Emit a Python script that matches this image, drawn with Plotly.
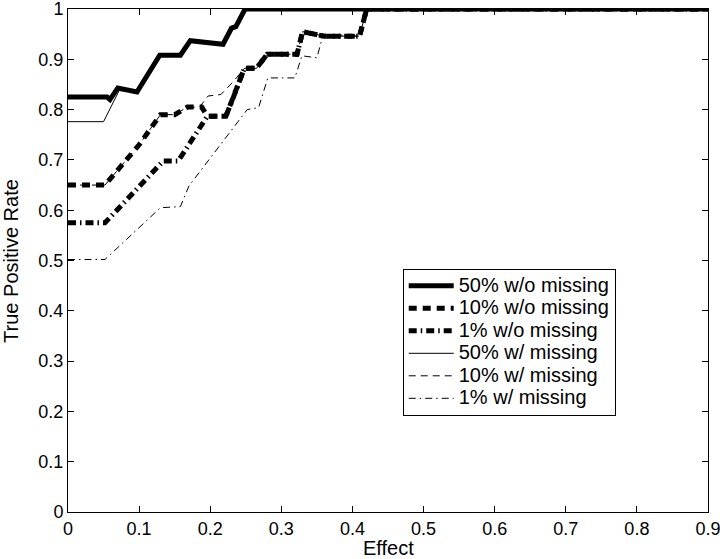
import plotly.graph_objects as go

# ---- data ----
x_50_wo = [0, 0.055, 0.059, 0.07, 0.097, 0.129, 0.158, 0.172, 0.218, 0.23, 0.236, 0.249, 0.9]
y_50_wo = [0.825, 0.825, 0.82, 0.843, 0.835, 0.908, 0.908, 0.937, 0.93, 0.962, 0.965, 1.0, 1.0]

x_10_wo = [0, 0.052, 0.1, 0.13, 0.15, 0.168, 0.188, 0.196, 0.222, 0.23, 0.248, 0.265, 0.28, 0.322, 0.33, 0.36, 0.41, 0.42, 0.9]
y_10_wo = [0.65, 0.65, 0.73, 0.79, 0.79, 0.805, 0.805, 0.787, 0.787, 0.815, 0.882, 0.882, 0.91, 0.91, 0.955, 0.946, 0.946, 1.0, 1.0]

x_1_wo = [0, 0.052, 0.134, 0.155, 0.196, 0.222, 0.23, 0.248, 0.265, 0.28, 0.322, 0.33, 0.36, 0.41, 0.42, 0.9]
y_1_wo = [0.575, 0.575, 0.698, 0.698, 0.787, 0.787, 0.815, 0.882, 0.882, 0.91, 0.91, 0.955, 0.946, 0.946, 1.0, 1.0]

x_50_w = [0, 0.05, 0.072, 0.097, 0.129, 0.158, 0.172, 0.218, 0.23, 0.236, 0.249, 0.9]
y_50_w = [0.776, 0.776, 0.838, 0.835, 0.908, 0.908, 0.937, 0.93, 0.962, 0.965, 1.0, 1.0]

x_10_w = [0, 0.052, 0.1, 0.13, 0.15, 0.168, 0.185, 0.197, 0.215, 0.232, 0.248, 0.265, 0.28, 0.322, 0.33, 0.36, 0.41, 0.42, 0.9]
y_10_w = [0.65, 0.65, 0.73, 0.79, 0.79, 0.805, 0.805, 0.827, 0.83, 0.855, 0.882, 0.882, 0.91, 0.91, 0.955, 0.946, 0.946, 1.0, 1.0]

x_1_w = [0, 0.052, 0.13, 0.158, 0.17, 0.252, 0.268, 0.281, 0.319, 0.329, 0.35, 0.359, 0.41, 0.42, 0.9]
y_1_w = [0.502, 0.502, 0.605, 0.607, 0.648, 0.80, 0.804, 0.863, 0.863, 0.907, 0.903, 0.95, 0.946, 1.0, 1.0]

x_ticks = [0, 0.1, 0.2, 0.3, 0.4, 0.5, 0.6, 0.7, 0.8, 0.9]
x_tick_labels = ["0", "0.1", "0.2", "0.3", "0.4", "0.5", "0.6", "0.7", "0.8", "0.9"]
y_ticks = [0, 0.1, 0.2, 0.3, 0.4, 0.5, 0.6, 0.7, 0.8, 0.9, 1.0]
y_tick_labels = ["0", "0.1", "0.2", "0.3", "0.4", "0.5", "0.6", "0.7", "0.8", "0.9", "1"]

x_title = "Effect"
y_title = "True Positive Rate"

series = [
    ("50% w/o missing", x_50_wo, y_50_wo, 5, "solid"),
    ("10% w/o missing", x_10_wo, y_10_wo, 5, "8px,6px"),
    ("1% w/o missing", x_1_wo, y_1_wo, 5, "8px,4px,1.5px,4px"),
    ("50% w/ missing", x_50_w, y_50_w, 1, "solid"),
    ("10% w/ missing", x_10_w, y_10_w, 1, "7px,5px"),
    ("1% w/ missing", x_1_w, y_1_w, 1, "7px,4px,1.5px,4px"),
]

fig = go.Figure()
for name, xs, ys, w, dash in series:
    fig.add_trace(go.Scatter(x=xs, y=ys, mode="lines",
                             name='<span style="font-size:20px">' + name + '</span>',
                             line=dict(color="black", width=w, dash=dash)))

axis_common = dict(showgrid=False, zeroline=False, showline=True, linecolor="black",
                   linewidth=1, mirror="ticks", ticks="inside", ticklen=6,
                   tickcolor="black", tickfont=dict(size=18, color="black"),
                   automargin=False, ticklabeloverflow="allow")

fig.update_layout(
    width=720, height=559,
    margin=dict(l=68, r=12, t=9, b=47),
    paper_bgcolor="white", plot_bgcolor="white",
    font=dict(family="Liberation Sans, Arial, sans-serif", color="black"),
    xaxis=dict(range=[0, 0.9], tickvals=x_ticks, ticktext=x_tick_labels, **axis_common),
    yaxis=dict(range=[0, 1], tickvals=y_ticks, ticktext=y_tick_labels, **axis_common),
    legend=dict(x=0.523, y=0.484, xanchor="left", yanchor="top",
                bordercolor="black", borderwidth=1, bgcolor="white",
                font=dict(size=15), tracegroupgap=0, itemwidth=45),
    showlegend=True,
    annotations=[
        dict(text=x_title, xref="paper", yref="paper", x=0.5, y=-0.0714,
             xanchor="center", yanchor="middle", showarrow=False, font=dict(size=20)),
        dict(text=y_title, xref="paper", yref="paper", x=-0.09, y=0.5,
             xanchor="center", yanchor="middle", showarrow=False, textangle=-90,
             font=dict(size=20)),
    ],
)

fig.write_html("out.html", config={"displayModeBar": False},
               post_script="document.body.style.margin='0';")
